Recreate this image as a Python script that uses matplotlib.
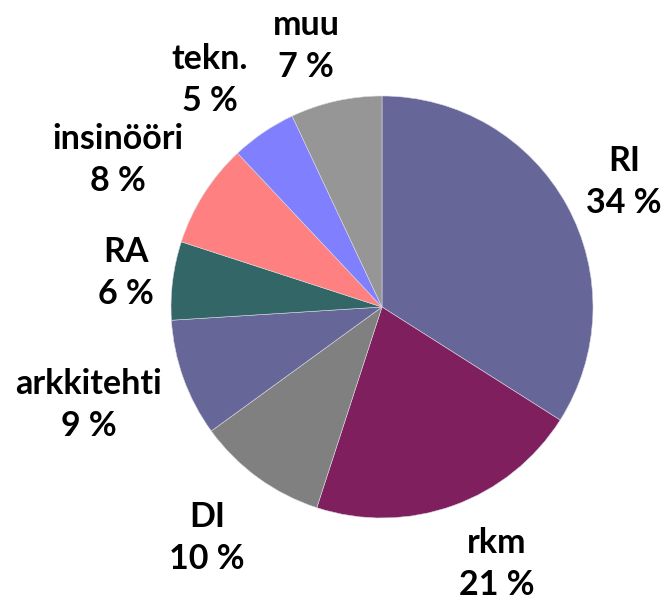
import matplotlib
matplotlib.use("Agg")
import matplotlib.pyplot as plt

categories = ["RI", "rkm", "DI", "arkkitehti", "RA", "insinööri", "tekn.", "muu"]
values = [34, 21, 10, 9, 6, 8, 5, 7]
colors = ["#666699", "#801F5E", "#808080", "#666699", "#336666", "#FF8080", "#8080FF", "#969696"]

# label layout positions (pixels, top-left origin)
label_pos = [(624, 182), (497, 564), (207, 538), (89, 405), (126, 273), (118, 160), (210, 80), (306, 46)]

W, H = 661, 601
fig = plt.figure(figsize=(W / 100, H / 100), dpi=100)
ax = fig.add_axes([0, 0, 1, 1])

ax.pie(values, colors=colors, startangle=90, counterclock=False,
       center=(382, H - 307), radius=211,
       wedgeprops=dict(edgecolor="#d8d8e0", linewidth=0.4))

ax.set_xlim(0, W)
ax.set_ylim(0, H)
ax.set_aspect("equal")
ax.axis("off")

for cat, v, (x, y) in zip(categories, values, label_pos):
    ax.text(x, H - y, f"{cat}\n{v} %", ha="center", va="center",
            fontsize=24.5, fontweight="bold", family="Lato",
            linespacing=1.35, color="black")

fig.savefig("out.png", dpi=100)
